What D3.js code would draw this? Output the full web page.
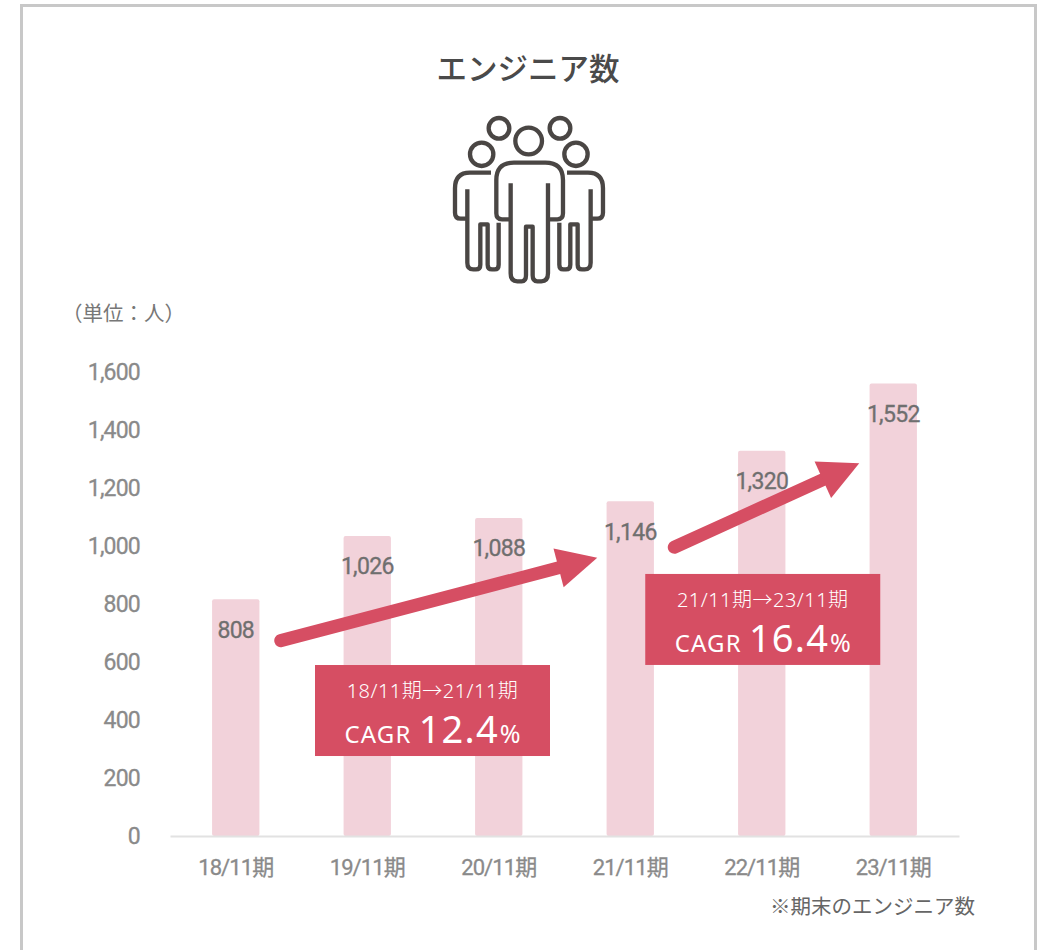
<!DOCTYPE html>
<html lang="ja">
<head>
<meta charset="utf-8">
<script src="https://cdn.jsdelivr.net/npm/d3@7"></script>
<style>
  html, body { margin: 0; background: #fff; }
  svg { display: block; }
  text { font-family: "Noto Sans CJK JP", "Noto Sans", sans-serif; }
  .num text, text.num { font-family: Roboto, "Noto Sans CJK JP", sans-serif; font-weight: 400; }
  .box text { font-family: "Noto Sans", "Noto Sans CJK JP", sans-serif; }
</style>
</head>
<body>
<div id="chart"></div>
<script>
// the data
const periods = ["18/11期", "19/11期", "20/11期", "21/11期", "22/11期", "23/11期"];
const engineers = [808, 1026, 1088, 1146, 1320, 1552];
const yTicks = [0, 200, 400, 600, 800, 1000, 1200, 1400, 1600];
const cagrRanges = ["18/11期→21/11期", "21/11期→23/11期"];
const cagrValues = ["12.4", "16.4"];

const width = 1043;
const height = 950;
const pink = "#d64e63";

const svg = d3.select("#chart")
  .append("svg")
    .attr("width", width)
    .attr("height", height)
    .attr("viewBox", [0, 0, width, height]);

// grey frame, runs off the bottom of the page
svg.append("rect")
  .attr("x", 21.5)
  .attr("y", 5.5)
  .attr("width", 1014)
  .attr("height", 1000)
  .attr("fill", "none")
  .attr("stroke", "#c8c8c8")
  .attr("stroke-width", 3);

svg.append("text")
  .attr("x", 528)
  .attr("y", 80)
  .attr("text-anchor", "middle")
  .attr("font-size", 30.5)
  .attr("font-weight", 500)
  .attr("fill", "#4a4a4a")
  .text("エンジニア数");

// people icon, drawn in zoomed units (3 = 1px)
const icon = svg.append("g")
  .attr("transform", "translate(420,40) scale(0.3333)")
  .attr("fill", "none")
  .attr("stroke", "#4a4644")
  .attr("stroke-width", 13)
  .attr("stroke-linejoin", "round");

[[237, 265, 31], [420, 265, 31], [185, 343, 35], [468, 343, 35], [326, 303, 40]].forEach(c => {
  icon.append("circle").attr("cx", c[0]).attr("cy", c[1]).attr("r", c[2]);
});

// centre figure
icon.append("path").attr("d",
  "M272 430V700Q272 724 292 724H305Q318 724 318 706V560H338V706Q338 724 352 724H364Q384 724 384 700V430" +
  "M272 538H246Q229 538 229 520V420Q229 368 282 368H376Q429 368 429 420V520Q429 538 412 538H384");

// side figures, right one is the left one flipped
[1, -1].forEach(dir => {
  icon.append("g")
    .attr("transform", dir === 1 ? null : "translate(654,0) scale(-1,1)")
    .append("path")
    .attr("d",
      "M213 398H150Q105 398 105 445V518Q105 536 122 536H142" +
      "M142 448V668Q142 688 160 688H168Q181 688 181 674V553H203V674Q203 688 216 688H224Q236 688 236 674V548");
});

svg.append("text")
  .attr("x", 62)
  .attr("y", 321)
  .attr("font-size", 20.5)
  .attr("fill", "#777")
  .text("（単位：人）");

// scales
const x = d3.scaleBand()
  .domain(periods)
  .range([170, 959])
  .paddingInner(0.64)
  .paddingOuter(0.32);

const y = d3.scaleLinear()
  .domain([0, 1600])
  .range([833.5, 369.5]);

// the axis line and the tick labels sit a little below the scale's zero
const axisDrop = 2.5;

const center = p => x(p) + x.bandwidth() / 2;

// bars
svg.selectAll(".bar")
  .data(engineers)
  .join("rect")
    .attr("class", "bar")
    .attr("x", (d, i) => x(periods[i]))
    .attr("y", d => y(d))
    .attr("width", x.bandwidth())
    .attr("height", d => y(0) + axisDrop - y(d))
    .attr("rx", 2)
    .attr("fill", "#f2d2da");

// axes
const yAxis = svg.append("g")
  .attr("class", "num")
  .attr("transform", `translate(140,${axisDrop})`)
  .call(d3.axisLeft(y).tickValues(yTicks).tickSize(0).tickPadding(0).tickFormat(d3.format(",")));
yAxis.select(".domain").remove();
yAxis.selectAll("text")
  .attr("font-size", 23)
  .attr("letter-spacing", -0.8)
  .attr("stroke", "#8a8a8a")
  .attr("stroke-width", 0.3)
  .attr("fill", "#8a8a8a");

const xAxis = svg.append("g")
  .attr("class", "num")
  .attr("transform", `translate(0,${y(0) + axisDrop})`)
  .call(d3.axisBottom(x).tickSize(0).tickPadding(23));
xAxis.select(".domain")
  .attr("stroke", "#e2e2e2")
  .attr("stroke-width", 2);
xAxis.selectAll("text")
  .attr("font-size", 22)
  .attr("letter-spacing", -0.9)
  .attr("stroke", "#8a8a8a")
  .attr("stroke-width", 0.3)
  .attr("fill", "#8a8a8a");

// value labels
svg.selectAll(".value")
  .data(engineers)
  .join("text")
    .attr("class", "value num")
    .attr("x", (d, i) => center(periods[i]))
    .attr("y", d => y(d) + 38.5)
    .attr("text-anchor", "middle")
    .attr("font-size", 23)
    .attr("letter-spacing", -0.7)
    .attr("stroke", "#6f6f6f")
    .attr("stroke-width", 0.3)
    .attr("fill", "#6f6f6f")
    .text(d => d3.format(",")(d));

// arrows, anchored to the scales
const arrows = [
  { from: [center(periods[0]) + 45, y(665)], to: [center(periods[3]) - 33, y(951)] },
  { from: [center(periods[3]) + 44, y(987)], to: [center(periods[5]) - 34, y(1277)] }
];

arrows.forEach(a => {
  const dx = a.to[0] - a.from[0];
  const dy = a.to[1] - a.from[1];
  const len = Math.hypot(dx, dy);
  const ux = dx / len, uy = dy / len;
  const headLen = 40, headHalf = 20;
  const bx = a.to[0] - ux * headLen, by = a.to[1] - uy * headLen;

  svg.append("line")
    .attr("x1", a.from[0]).attr("y1", a.from[1])
    .attr("x2", bx + ux * 8).attr("y2", by + uy * 8)
    .attr("stroke", pink)
    .attr("stroke-width", 13)
    .attr("stroke-linecap", "round");

  svg.append("polygon")
    .attr("points", [
      a.to,
      [bx - uy * headHalf, by + ux * headHalf],
      [bx + uy * headHalf, by - ux * headHalf]
    ].join(" "))
    .attr("fill", pink);
});

// CAGR boxes
const boxes = [
  { cx: (center(periods[1]) + center(periods[2])) / 2 - 0.5, top: y(581) },
  { cx: center(periods[4]) + 1, top: y(895) }
];
const boxW = 235, boxH = 91;

boxes.forEach((b, i) => {
  const g = svg.append("g")
    .attr("class", "box")
    .attr("transform", `translate(${b.cx},${b.top})`);
  g.append("rect")
    .attr("x", -boxW / 2)
    .attr("width", boxW)
    .attr("height", boxH)
    .attr("fill", pink);
  g.append("text")
    .attr("y", 33)
    .attr("text-anchor", "middle")
    .attr("font-size", 20)
    .attr("font-weight", 300)
    .attr("letter-spacing", 0.5)
    .attr("fill", "#fff")
    .text(cagrRanges[i]);
  const line = g.append("text")
    .attr("y", 78)
    .attr("text-anchor", "middle")
    .attr("fill", "#fff");
  line.append("tspan").attr("font-size", 24).attr("letter-spacing", 1.2).text("CAGR");
  line.append("tspan").attr("dx", 7).attr("font-size", 38).attr("letter-spacing", 1.2).text(cagrValues[i]);
  line.append("tspan").attr("dx", 1).attr("font-size", 25).text("%");
});

svg.append("text")
  .attr("x", 975)
  .attr("y", 914)
  .attr("text-anchor", "end")
  .attr("font-size", 20.5)
  .attr("fill", "#666")
  .text("※期末のエンジニア数");
</script>
</body>
</html>
